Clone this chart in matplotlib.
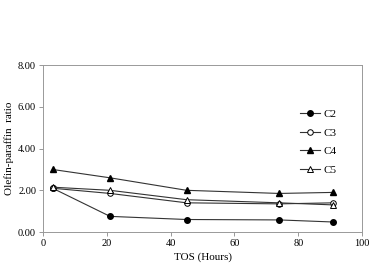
import matplotlib
matplotlib.use('Agg')
import matplotlib.pyplot as plt
from matplotlib.ticker import FormatStrFormatter

plt.rcParams['font.family'] = ['Liberation Serif', 'DejaVu Serif']

# données
tos = [3, 21, 45, 74, 91]
c2 = [2.10, 0.75, 0.60, 0.58, 0.48]
c3 = [2.10, 1.85, 1.40, 1.35, 1.40]
c4 = [3.00, 2.60, 2.00, 1.85, 1.90]
c5 = [2.15, 2.00, 1.55, 1.40, 1.30]

fig = plt.figure(figsize=(3.71, 2.69), dpi=100)
ax = fig.add_axes([0.116, 0.1375, 0.86, 0.62])

lc = '#333333'
ax.plot(tos, c2, color=lc, lw=0.8, marker='o', ms=4, mfc='black', mec='black', label='C2')
ax.plot(tos, c3, color=lc, lw=0.8, marker='o', ms=4, mfc='white', mec='black', mew=0.7, label='C3')
ax.plot(tos, c4, color=lc, lw=0.8, marker='^', ms=4.5, mfc='black', mec='black', label='C4')
ax.plot(tos, c5, color=lc, lw=0.8, marker='^', ms=4.5, mfc='white', mec='black', mew=0.7, label='C5')

ax.set_xlim(0, 100)
ax.set_ylim(0, 8)
ax.set_xticks([0, 20, 40, 60, 80, 100])
ax.set_yticks([0, 2, 4, 6, 8])
ax.yaxis.set_major_formatter(FormatStrFormatter('%.2f'))
ax.tick_params(labelsize=7.5, length=3, width=0.6, color='#888888', pad=2)
for s in ax.spines.values():
    s.set_color('#999999')
    s.set_linewidth(0.7)

ax.set_xlabel('TOS (Hours)', fontsize=8, labelpad=3)
ax.set_ylabel('Olefin-paraffin  ratio', fontsize=8, labelpad=3)

ax.legend(loc='center left', bbox_to_anchor=(0.775, 0.54), frameon=False,
          fontsize=8, handlelength=1.8, handletextpad=0.25, labelspacing=0.8)

fig.savefig('out.png', dpi=100)
